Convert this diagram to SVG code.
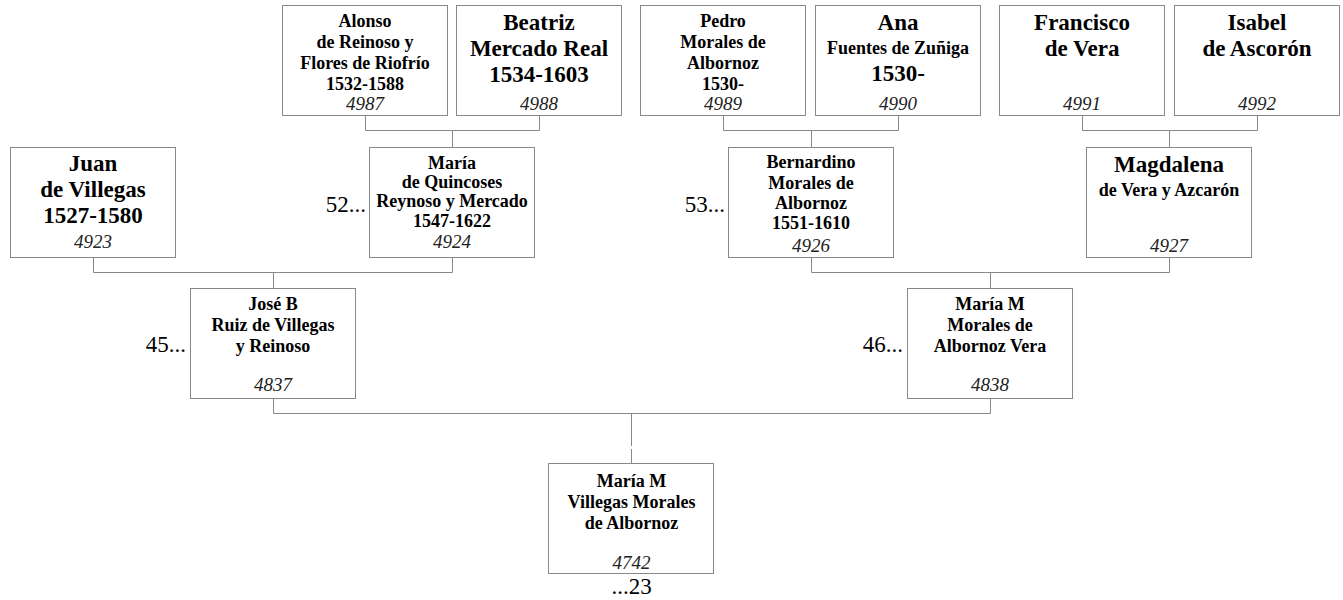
<svg xmlns="http://www.w3.org/2000/svg" width="1343" height="600" viewBox="0 0 1343 600">
<style>
rect.box{fill:#fff;stroke:#888;stroke-width:1}
.c path{fill:none;stroke:#888;stroke-width:1}
text{font-family:"Liberation Serif","Times New Roman",serif;text-anchor:middle;fill:#000}
.s{font-size:18px;font-weight:bold}
.l{font-size:23px;font-weight:bold}
.n{font-size:19px;font-style:italic;fill:#222}
.lab{font-size:23px;text-anchor:end}
.labc{font-size:23px}
</style>
<rect width="1343" height="600" fill="#fff"/>
<g class="c" id="connectors">
<path d="M365.5 115 V130.5 H539.5 V115 M452.5 130.5 V147"/>
<path d="M723.5 115 V130.5 H898.5 V115 M811.5 130.5 V147"/>
<path d="M1082.5 115 V130.5 H1257.5 V115 M1169.5 130.5 V147"/>
<path d="M93.5 257 V272.5 H452.5 V257 M273.5 272.5 V288"/>
<path d="M811.5 257 V272.5 H1169.5 V257 M990.5 272.5 V288"/>
<path d="M273.5 398 V413.5 H990.5 V398 M631.5 413.5 V446 M631.5 449 V463"/>
</g>
<g id="p4987">
<rect class="box" x="282.5" y="5.5" width="165" height="110"/>
<text class="s" x="365" y="27">Alonso</text>
<text class="s" x="365" y="48">de Reinoso y</text>
<text class="s" x="365" y="69">Flores de Riofrío</text>
<text class="s" x="365" y="90">1532-1588</text>
<text class="n" x="365" y="110">4987</text>
</g>
<g id="p4988">
<rect class="box" x="456.5" y="5.5" width="165" height="110"/>
<text class="l" x="539" y="29.5">Beatriz</text>
<text class="l" x="539" y="55.5">Mercado Real</text>
<text class="l" x="539" y="81.5">1534-1603</text>
<text class="n" x="539" y="110">4988</text>
</g>
<g id="p4989">
<rect class="box" x="640.5" y="5.5" width="165" height="110"/>
<text class="s" x="723" y="27">Pedro</text>
<text class="s" x="723" y="48">Morales de</text>
<text class="s" x="723" y="69">Albornoz</text>
<text class="s" x="723" y="90">1530-</text>
<text class="n" x="723" y="110">4989</text>
</g>
<g id="p4990">
<rect class="box" x="815.5" y="5.5" width="165" height="110"/>
<text class="l" x="898" y="29.5">Ana</text>
<text class="s" x="898" y="53.5">Fuentes de Zuñiga</text>
<text class="l" x="898" y="80.5">1530-</text>
<text class="n" x="898" y="110">4990</text>
</g>
<g id="p4991">
<rect class="box" x="999.5" y="5.5" width="165" height="110"/>
<text class="l" x="1082" y="29.5">Francisco</text>
<text class="l" x="1082" y="55.5">de Vera</text>
<text class="n" x="1082" y="110">4991</text>
</g>
<g id="p4992">
<rect class="box" x="1174.5" y="5.5" width="165" height="110"/>
<text class="l" x="1257" y="29.5">Isabel</text>
<text class="l" x="1257" y="55.5">de Ascorón</text>
<text class="n" x="1257" y="110">4992</text>
</g>
<g id="p4923">
<rect class="box" x="10.5" y="147.5" width="165" height="110"/>
<text class="l" x="93" y="171">Juan</text>
<text class="l" x="93" y="197">de Villegas</text>
<text class="l" x="93" y="223">1527-1580</text>
<text class="n" x="93" y="248">4923</text>
</g>
<g id="p4924">
<text class="lab" x="366" y="212">52...</text>
<rect class="box" x="369.5" y="147.5" width="165" height="110"/>
<text class="s" x="452" y="169">María</text>
<text class="s" x="452" y="188">de Quincoses</text>
<text class="s" x="452" y="207">Reynoso y Mercado</text>
<text class="s" x="452" y="227">1547-1622</text>
<text class="n" x="452" y="248">4924</text>
</g>
<g id="p4926">
<text class="lab" x="725" y="212">53...</text>
<rect class="box" x="728.5" y="147.5" width="165" height="110"/>
<text class="s" x="811" y="168">Bernardino</text>
<text class="s" x="811" y="189">Morales de</text>
<text class="s" x="811" y="209">Albornoz</text>
<text class="s" x="811" y="229">1551-1610</text>
<text class="n" x="811" y="251.5">4926</text>
</g>
<g id="p4927">
<rect class="box" x="1086.5" y="147.5" width="165" height="110"/>
<text class="l" x="1169" y="171.5">Magdalena</text>
<text class="s" x="1169" y="195.5">de Vera y Azcarón</text>
<text class="n" x="1169" y="251.5">4927</text>
</g>
<g id="p4837">
<text class="lab" x="186" y="352">45...</text>
<rect class="box" x="190.5" y="288.5" width="165" height="110"/>
<text class="s" x="273" y="310">José B</text>
<text class="s" x="273" y="331">Ruiz de Villegas</text>
<text class="s" x="273" y="352">y Reinoso</text>
<text class="n" x="273" y="391">4837</text>
</g>
<g id="p4838">
<text class="lab" x="903" y="352">46...</text>
<rect class="box" x="907.5" y="288.5" width="165" height="110"/>
<text class="s" x="990" y="310">María M</text>
<text class="s" x="990" y="331">Morales de</text>
<text class="s" x="990" y="352">Albornoz Vera</text>
<text class="n" x="990" y="391">4838</text>
</g>
<g id="p4742">
<rect class="box" x="548.5" y="463.5" width="165" height="110"/>
<text class="s" x="631.5" y="487">María M</text>
<text class="s" x="631.5" y="508">Villegas Morales</text>
<text class="s" x="631.5" y="529">de Albornoz</text>
<text class="n" x="631.5" y="569">4742</text>
<text class="labc" x="631.5" y="594">...23</text>
</g>
</svg>
